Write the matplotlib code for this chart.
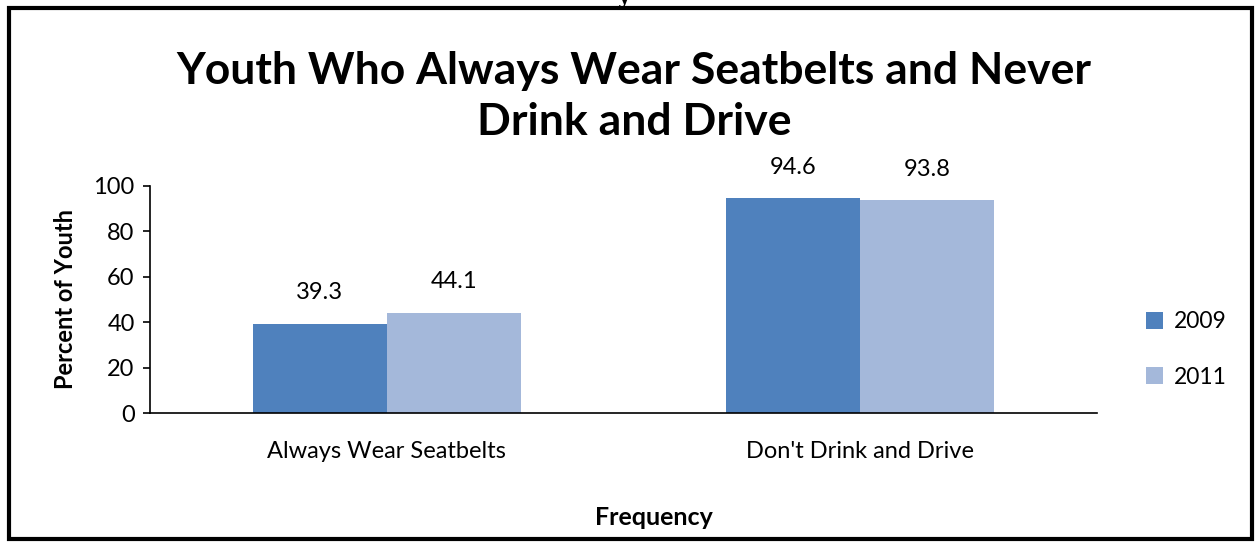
import matplotlib.pyplot as plt
import numpy as np
from matplotlib.patches import Rectangle

categories = ["Always Wear Seatbelts", "Don't Drink and Drive"]
years = ["2009", "2011"]
values_2009 = [39.3, 94.6]
values_2011 = [44.1, 93.8]
colors = ["#4F81BD", "#A4B8DA"]

plt.rcParams['font.family'] = ['Lato', 'DejaVu Sans']

fig = plt.figure(figsize=(12.55, 5.42), dpi=100)
ax = fig.add_axes([0.1195, 0.238, 0.7545, 0.419])

x = np.arange(len(categories))
w = 0.283
series = [values_2009, values_2011]
for i, (vals, yr) in enumerate(zip(series, years)):
    offs = (i - 0.5) * w
    bars = ax.bar(x + offs, vals, width=w, color=colors[i], label=yr)
    for b, v in zip(bars, vals):
        ax.text(b.get_x() + b.get_width() / 2, v + 9, f"{v}",
                ha='center', va='bottom', fontsize=17)

ax.set_xlim(-0.5, 1.5)
ax.set_ylim(0, 100)
ax.set_yticks(range(0, 101, 20))
ax.set_xticks(x)
ax.set_xticklabels(categories, fontsize=17)
ax.tick_params(axis='y', labelsize=17, direction='out', length=5, width=1.2, pad=6)
ax.tick_params(axis='x', length=0, pad=20)
for s in ['top', 'right']:
    ax.spines[s].set_visible(False)
ax.spines['left'].set_linewidth(1.2)
ax.spines['bottom'].set_linewidth(1.2)

ax.set_ylabel("Percent of Youth", fontsize=17, fontweight='bold', labelpad=12)
fig.text(0.521, 0.046, "Frequency", ha='center', va='center', fontsize=18, fontweight='bold')

fig.text(0.505, 0.822, "Youth Who Always Wear Seatbelts and Never\nDrink and Drive",
         ha='center', va='center', fontsize=32, fontweight='bold', linespacing=1.32)

leg = ax.legend(loc='center left', bbox_to_anchor=(1.03, 0.28), frameon=False,
                fontsize=16.5, handlelength=0.75, handleheight=0.75, labelspacing=1.5,
                handletextpad=0.45)

# border around the chart
fig.patches.append(Rectangle((0.0075, 0.005), 0.99, 0.98, transform=fig.transFigure,
                             fill=False, edgecolor='black', linewidth=3))
fig.text(0.497, 1.005, "y", ha='center', va='center', fontsize=16,
         fontweight='bold', family='DejaVu Serif')

fig.savefig("out.png", dpi=100)
